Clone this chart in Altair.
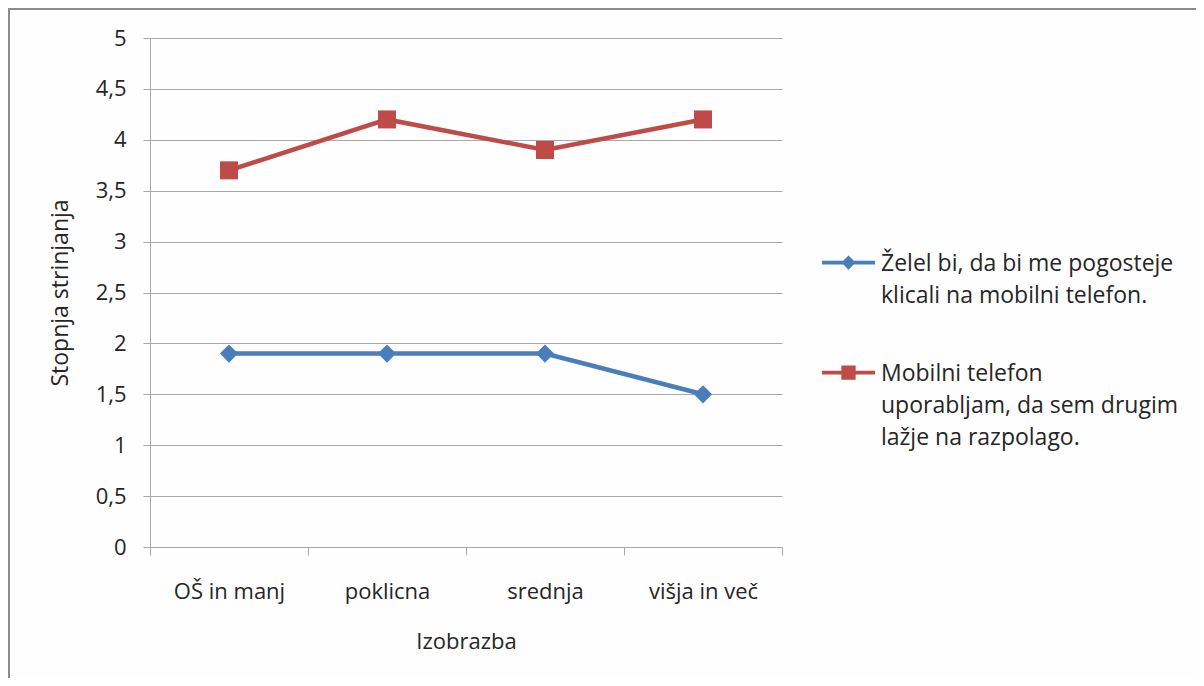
import altair as alt
import pandas as pd

categories = ["OŠ in manj", "poklicna", "srednja", "višja in več"]
series_names = [
    "Želel bi, da bi me pogosteje klicali na mobilni telefon.",
    "Mobilni telefon uporabljam, da sem drugim lažje na razpolago.",
]
values_blue = [1.9, 1.9, 1.9, 1.5]
values_red = [3.7, 4.2, 3.9, 4.2]
legend_lines = [
    ["Želel bi, da bi me pogosteje", "klicali na mobilni telefon."],
    ["Mobilni telefon", "uporabljam, da sem drugim", "lažje na razpolago."],
]
y_ticks = [0, 0.5, 1, 1.5, 2, 2.5, 3, 3.5, 4, 4.5, 5]
colors = ["#4A7EBB", "#BE4B48"]

rows = []
for name, vals in zip(series_names, [values_blue, values_red]):
    for c, v in zip(categories, vals):
        rows.append({"category": c, "value": v, "series": name})
df = pd.DataFrame(rows)

FONT = "Open Sans"
TXT = "#262626"
GRID = "#A9A9A9"
W, H = 632, 509

# legend symbols: line segment plus marker
dy = 0.38
blue_path = (f"M-1,{-0.07+dy}H1V{0.07+dy}H-1Z "
             f"M0,{-0.27+dy}L0.27,{dy}L0,{0.27+dy}L-0.27,{dy}Z")
red_path = (f"M-1,{-0.07+dy}H1V{0.07+dy}H-1Z "
            f"M-0.27,{-0.27+dy}H0.27V{0.27+dy}H-0.27Z")

label_expr = " : ".join(
    f"datum.label == '{n}' ? {lines!r}" for n, lines in zip(series_names, legend_lines)
) + " : datum.label"

x_enc = alt.X(
    "category:N",
    sort=categories,
    scale=alt.Scale(type="band", domain=categories, paddingInner=0, paddingOuter=0),
    axis=alt.Axis(
        title="Izobrazba", tickBand="extent", labelAngle=0, grid=False,
        labelFont=FONT, labelFontSize=22, labelColor=TXT, labelPadding=26,
        titleFont=FONT, titleFontSize=22, titleColor=TXT, titleFontWeight="normal",
        titlePadding=29, tickSize=8, tickColor=GRID, domainColor=GRID,
    ),
)
y_enc = alt.Y(
    "value:Q",
    scale=alt.Scale(domain=[0, 5], nice=False, zero=True),
    axis=alt.Axis(
        values=y_ticks, title="Stopnja strinjanja",
        labelExpr="replace(toString(datum.value), '.', ',')",
        labelFont=FONT, labelFontSize=22, labelColor=TXT, labelPadding=17,
        titleFont=FONT, titleFontSize=23, titleColor=TXT, titleFontWeight="normal",
        titlePadding=23, tickSize=7, tickColor=GRID, domainColor=GRID,
        gridColor=GRID, grid=True,
    ),
)
color_scale = alt.Scale(domain=series_names, range=colors)

base = alt.Chart(df).encode(x=x_enc, y=y_enc)

lines = base.mark_line(strokeWidth=4.5).encode(
    color=alt.Color("series:N", scale=color_scale, legend=None)
)
points = base.mark_point(filled=True, opacity=1).encode(
    color=alt.Color("series:N", scale=color_scale, legend=None),
    shape=alt.Shape("series:N", scale=alt.Scale(domain=series_names, range=["diamond", "square"]), legend=None),
    size=alt.Size("series:N", scale=alt.Scale(domain=series_names, range=[330, 324]), legend=None),
)

leg = alt.Legend(
    orient="none", legendX=672, legendY=188, title=None, padding=0,
    symbolSize=2809, symbolStrokeWidth=0, symbolOpacity=1,
    labelFont=FONT, labelFontSize=23, labelColor=TXT, labelLimit=0,
    labelBaseline="top", labelOffset=6, rowPadding=28, labelExpr=label_expr,
)
legend_layer = base.mark_point(filled=True, opacity=0).encode(
    color=alt.Color("series:N", scale=color_scale, legend=leg),
    shape=alt.Shape("series:N", scale=alt.Scale(domain=series_names, range=[blue_path, red_path]), legend=leg),
)

border = alt.Chart(alt.Data(values=[{}])).mark_rect(
    fill="transparent", stroke="#8C8C8C", strokeWidth=2
).encode(
    x=alt.value(-141), x2=alt.value(W + 460), y=alt.value(-29), y2=alt.value(H + 200)
)

chart = alt.layer(border, lines, points, legend_layer).resolve_scale(
    shape="independent", size="independent", color="independent"
).properties(
    width=W, height=H,
    autosize=alt.AutoSizeParams(type="none"),
    padding={"left": 142, "top": 30, "right": 1188 - 142 - W, "bottom": 670 - 30 - H},
    background="#FEFEFE",
).configure(style={"guide-label": {"lineHeight": 32}}).configure_view(stroke=None)

chart.save("out.html", embed_options={"renderer": "svg", "actions": False})
